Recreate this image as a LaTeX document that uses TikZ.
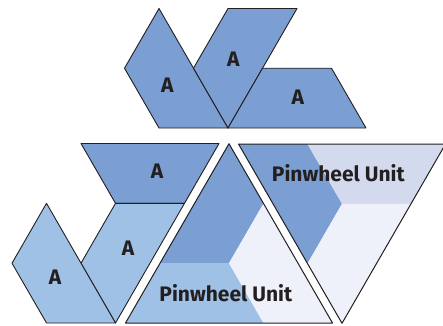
\documentclass[tikz,border=0pt]{standalone}
\usepackage{fontspec}
\setmainfont{Fira Sans}
\definecolor{dkblue}{HTML}{7B9ED3}
\definecolor{ltblue}{HTML}{A0C1E6}
\definecolor{pale}{HTML}{EEF1FA}
\definecolor{lav}{HTML}{D4DAEE}
\definecolor{ink}{HTML}{231F20}
\tikzset{
  piece/.style={draw=ink, line width=0.9pt, line join=round},
  lbl/.style={text=ink, font=\fontsize{21}{24}\selectfont\bfseries, inner sep=0pt},
  tri/.style={draw=ink, line width=1pt, line join=round},
}
\begin{document}
\begin{tikzpicture}[x=1pt,y=-1pt]
\useasboundingbox (0,0) rectangle (443,325);
\fill[white] (0,0) rectangle (443,325);
% top group
\filldraw[piece, fill=dkblue] (159,8.5) -- (124.5,68.2) -- (159,128) -- (228,128) -- cycle;
\filldraw[piece, fill=dkblue] (228,8.5) -- (297,8.5) -- (228,128) -- (193.5,68.2) -- cycle;
\filldraw[piece, fill=dkblue] (262.5,68.2) -- (331.5,68.2) -- (366,128) -- (228,128) -- cycle;
\node[lbl] (a1) at (167.3,85) {A};
\node[lbl] (a2) at (233.3,59) {A};
\node[lbl] (a3) at (297.7,97.3) {A};
% bottom-left group
\filldraw[piece, fill=dkblue] (81,143.5) -- (219,143.5) -- (184.5,203.3) -- (115.5,203.3) -- cycle;
\filldraw[piece, fill=ltblue] (115.5,203.3) -- (184.5,203.3) -- (115.5,323) -- (81,263.2) -- cycle;
\filldraw[piece, fill=ltblue] (46.5,203.3) -- (12,263.2) -- (46.5,323) -- (115.5,323) -- cycle;
\node[lbl] (a4) at (157,171.5) {A};
\node[lbl] (a5) at (128,248) {A};
\node[lbl] (a6) at (55,277) {A};
% middle pinwheel triangle
\fill[dkblue] (229,143.7) -- (160,263.2) -- (229,263.2) -- (263.5,203.5) -- cycle;
\fill[ltblue] (160,263.2) -- (125.5,323) -- (263.5,323) -- (229,263.2) -- cycle;
\fill[pale] (263.5,203.5) -- (332.5,323) -- (263.5,323) -- (229,263.2) -- cycle;
\draw[tri] (229,143.7) -- (125.5,323) -- (332.5,323) -- cycle;
\node[lbl, anchor=base] (p1) at (225.8,301.7) {Pinwheel Unit};
% right pinwheel triangle
\fill[dkblue] (238.5,144) -- (307.5,144) -- (342,203.8) -- (307.5,263.5) -- cycle;
\fill[lav] (307.5,144) -- (445.5,144) -- (411,203.8) -- (342,203.8) -- cycle;
\fill[pale] (342,203.8) -- (411,203.8) -- (342,323.3) -- (307.5,263.5) -- cycle;
\draw[tri] (238.5,144) -- (445.5,144) -- (342,323.3) -- cycle;
\node[lbl, anchor=base] (p2) at (338.3,181) {Pinwheel Unit};
\end{tikzpicture}
\end{document}
